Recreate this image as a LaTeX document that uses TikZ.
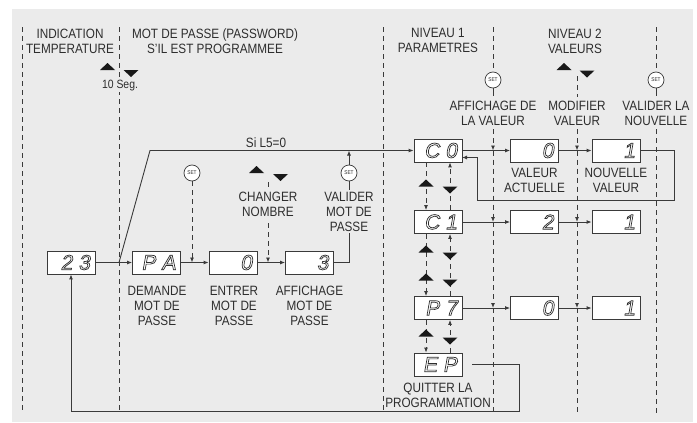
\documentclass[tikz,border=0pt]{standalone}
\usepackage{fontspec}
\setmainfont{Liberation Sans}[FakeStretch=0.87]
\newfontfamily\segfont{Liberation Sans}[FakeSlant=0.18]
\usetikzlibrary{arrows.meta}
\definecolor{bg}{HTML}{EBEBEB}
\definecolor{ln}{HTML}{3A3A3A}
\definecolor{tx}{HTML}{2E2E2E}
\newcommand{\outl}[1]{\special{pdf:literal direct 1 Tr 0.7 w}#1\special{pdf:literal direct 0 Tr}}
\tikzset{
  lbl/.style={anchor=north,align=center,inner sep=0pt,text=tx,font=\fontsize{13.5}{15}\selectfont},
  disp/.style={draw=ln,fill=white,line width=0.8pt,minimum width=48pt,minimum height=23pt,
    inner xsep=5pt,inner ysep=0pt,text width=38pt,align=right,text=tx,font=\segfont\fontsize{21}{21}\selectfont},
  setc/.style={circle,draw=ln,fill=white,line width=0.7pt,minimum size=16pt,inner sep=0pt,text=tx,
    font=\fontsize{5.5}{5.5}\selectfont},
  conn/.style={draw=ln,line width=0.9pt,-{Latex[length=5pt,width=4pt]}},
  plain/.style={draw=ln,line width=0.9pt},
  dsh/.style={draw=ln,line width=0.8pt,dash pattern=on 5pt off 4pt},
  tup/.pic={\fill[black!90] (-7.5,3.5) -- (7.5,3.5) -- (0,-3.5) -- cycle;},
  tdn/.pic={\fill[black!90] (-7.5,-3.5) -- (7.5,-3.5) -- (0,3.5) -- cycle;}
}
\begin{document}
\begin{tikzpicture}[x=1pt,y=-1pt]
\useasboundingbox (0,0) rectangle (697,423);
\fill[bg] (12,9) rectangle (693,422);

% vertical dashed separators
\foreach \xx in {22,119,383}{\draw[dsh] (\xx,27) -- (\xx,413);}

% headers
\node[lbl] (h1) at (70,28.5) {INDICATION\\TEMPERATURE};
\node[lbl] (h2) at (215,28.5) {MOT DE PASSE (PASSWORD)\\S'IL EST PROGRAMMEE};
\node[lbl] (h3) at (438,28.5) {NIVEAU 1\\PARAMETRES};
\node[lbl] (h4) at (575,28.5) {NIVEAU 2\\VALEURS};

\pic at (107.5,66.5) {tup};
\pic at (131,73.5) {tdn};
\node[lbl,anchor=center,fill=bg,inner sep=1pt,font=\fontsize{12}{12}\selectfont] (seg) at (120,86) {10 Seg.};

% displays
\node[disp] (d23) at (71,262.5) {\outl{2\hspace{6pt}3}};
\node[disp] (dPA) at (156.5,262.5) {\outl{P\hspace{6pt}A}};
\node[disp] (dE0) at (233,262.5) {\outl{0}};
\node[disp] (dE3) at (309.5,262.5) {\outl{3}};
\node[disp] (dC0) at (438,150.5) {\outl{C\hspace{6pt}0}};
\node[disp] (dV0) at (534.5,150.5) {\outl{0}};
\node[disp] (dN0) at (616,150.5) {\outl{1}};
\node[disp] (dC1) at (438,222) {\outl{C\hspace{6pt}1}};
\node[disp] (dV1) at (534.5,222) {\outl{2}};
\node[disp] (dN1) at (616,222) {\outl{1}};
\node[disp] (dP7) at (438,308) {\outl{P\hspace{6pt}7}};
\node[disp] (dV2) at (534.5,308) {\outl{0}};
\node[disp] (dN2) at (616,308) {\outl{1}};
\node[disp] (dEP) at (438,364.5) {\outl{E\hspace{6pt}P}};

% password labels
\node[lbl] (l1) at (157,285.7) {DEMANDE\\MOT DE\\PASSE};
\node[lbl] (l2) at (234,285.7) {ENTRER\\MOT DE\\PASSE};
\node[lbl] (l3) at (309.5,285.7) {AFFICHAGE\\MOT DE\\PASSE};
\node[lbl] (lch) at (268,191.8) {CHANGER\\NOMBRE};
\pic at (256.5,169.5) {tup};
\pic at (280.5,177.5) {tdn};

% password flow
\draw[conn] (d23) -- (dPA);
\draw[conn] (dPA) -- (dE0);
\draw[conn] (dE0) -- (dE3);
\coordinate (vtop) at (349,150.5);
\draw[conn] (dE3.east) -| (vtop);
\node[lbl,fill=bg,inner ysep=2pt] (lval) at (349,189.8) {VALIDER\\MOT DE\\PASSE};
\node[setc] (s2) at (349,173) {SET};

\node[setc] (s1) at (192,173) {SET};
\coordinate (s1t) at (192,262.5);
\draw[dsh,conn] (s1.south) -- (s1t);
\coordinate (cht) at (268,182);
\coordinate (chb) at (268,187);
\draw[plain,line width=0.8pt] (cht) -- (chb);
\coordinate (chs) at (268,223);
\coordinate (che) at (268,262.5);
\draw[dsh,conn] (chs) -- (che);

% Si L5=0 path
\coordinate (dg) at (119,262.5);
\coordinate (dgt) at (150,150.5);
\draw[conn] (dg) -- (dgt) -- (dC0.west);
\node[lbl,anchor=south] (si) at (266,147.8) {Si L5=0};

% right side SET and labels
\node[setc] (s3) at (493,80) {SET};
\node[setc] (s4) at (656,80) {SET};
\draw[dsh] (493,27) -- (s3.north);
\draw[dsh] (656,27) -- (s4.north);
\draw[plain,line width=0.8pt] (s3.south) -- (493,96);
\draw[plain,line width=0.8pt] (s4.south) -- (656,96);
\pic at (564,66.5) {tup};
\pic at (587,74) {tdn};
\draw[dsh] (577,76) -- (577,97);
\node[lbl] (la) at (493,101) {AFFICHAGE DE\\LA VALEUR};
\node[lbl] (lb) at (577,101) {MODIFIER\\VALEUR};
\node[lbl] (lc) at (656,101) {VALIDER LA\\NOUVELLE};
\node[lbl] (lva) at (534.5,168.3) {VALEUR\\ACTUELLE};
\node[lbl] (lnv) at (616,168.3) {NOUVELLE\\VALEUR};

% dashed columns 493 / 577 / 656
\foreach \xx in {493,577}{
  \draw[dsh,conn] (\xx,129) -- (\xx,150.5);
  \draw[dsh,conn] (\xx,150.5) -- (\xx,222);
  \draw[dsh,conn] (\xx,222) -- (\xx,308);
  \draw[dsh] (\xx,308) -- (\xx,413);
}
\draw[dsh] (656,129) -- (656,413);

% horizontal value rows
\draw[conn] (dC0) -- (dV0);
\draw[conn] (dV0) -- (dN0);
\draw[conn] (dC1) -- (dV1);
\draw[conn] (dV1) -- (dN1);
\draw[conn] (dP7) -- (dV2);
\draw[conn] (dV2) -- (dN2);

% return to C0
\coordinate (rr) at (674,200);
\coordinate (rl) at (477,157.5);
\coordinate (c0in) at (462,157.5);
\draw[conn] (dN0.east) -| (rr) -| (rl) -- (c0in);

% level 1 column arrows
\draw[dsh,conn] ([xshift=-12pt]dC0.south) -- ([xshift=-12pt]dC1.north);
\draw[dsh,conn] ([xshift=12pt]dC1.north) -- ([xshift=12pt]dC0.south);
\draw[dsh,conn] ([xshift=-12pt]dC1.south) -- ([xshift=-12pt]dP7.north);
\draw[dsh,conn] ([xshift=12pt]dP7.north) -- ([xshift=12pt]dC1.south);
\draw[dsh,conn] ([xshift=-12pt]dP7.south) -- ([xshift=-12pt]dEP.north);
\draw[dsh,conn] ([xshift=12pt]dEP.north) -- ([xshift=12pt]dP7.south);
\pic at (426,183) {tup};
\pic at (450,190) {tdn};
\pic at (426,249) {tup};
\pic at (426,277) {tup};
\pic at (450,256) {tdn};
\pic at (450,283) {tdn};
\pic at (426,333) {tup};
\pic at (450,341) {tdn};

\node[lbl] (lq) at (438,382.5) {QUITTER LA\\PROGRAMMATION};

% exit path
\coordinate (ep1) at (472,364.5);
\coordinate (br) at (519,411);
\draw[conn] (ep1) -| (br) -| (d23.south);
\end{tikzpicture}
\end{document}
